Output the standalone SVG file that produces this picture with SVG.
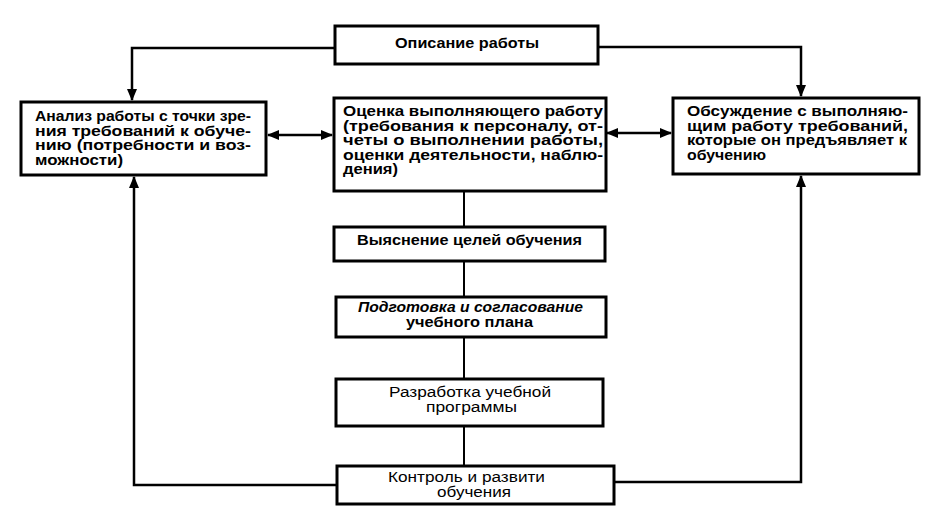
<svg xmlns="http://www.w3.org/2000/svg" width="928" height="522" viewBox="0 0 928 522">
<style>
.box{fill:#fff;stroke:#000;stroke-width:3}
.t{font-family:"Liberation Sans",Arial,sans-serif;font-size:14px;font-weight:bold;fill:#000}
.r{font-family:"Liberation Sans",Arial,sans-serif;font-size:14px;fill:#000}
.i{font-style:italic}
.c{fill:none;stroke:#000;stroke-width:2.5}
.cm{fill:none;stroke:#000;stroke-width:2}
</style>
<defs>
<marker id="ah" viewBox="0 0 12 10" refX="11" refY="5" markerWidth="12" markerHeight="10" markerUnits="userSpaceOnUse" orient="auto-start-reverse">
<path d="M0,0 L12,5 L0,10 z" fill="#000"/>
</marker>
</defs>
<rect width="928" height="522" fill="#fff"/>
<g id="connectors">
<path class="c" d="M335,48 H132 V100" marker-end="url(#ah)"/>
<path class="c" d="M598,47 H801 V96" marker-end="url(#ah)"/>
<path class="c" d="M268,135 H332" marker-start="url(#ah)" marker-end="url(#ah)"/>
<path class="c" d="M607,133 H671" marker-start="url(#ah)" marker-end="url(#ah)"/>
<path class="cm" d="M464,191 V466"/>
<path class="c" d="M337,485 H134 V177" marker-end="url(#ah)"/>
<path class="c" d="M614,482 H801 V176" marker-end="url(#ah)"/>
</g>
<g id="n-opisanie">
<rect class="box" x="335" y="26" width="263" height="38"/>
<text class="t" x="395" y="48" textLength="144" lengthAdjust="spacingAndGlyphs">Описание работы</text>
</g>
<g id="n-analiz">
<rect class="box" x="21" y="102" width="245" height="73"/>
<text class="t" x="35" y="121" textLength="216" lengthAdjust="spacingAndGlyphs">Анализ работы с точки зре-</text>
<text class="t" x="35" y="135.5" textLength="216" lengthAdjust="spacingAndGlyphs">ния требований к обуче-</text>
<text class="t" x="35" y="150" textLength="216" lengthAdjust="spacingAndGlyphs">нию (потребности и воз-</text>
<text class="t" x="35" y="164.5" textLength="88" lengthAdjust="spacingAndGlyphs">можности)</text>
</g>
<g id="n-ocenka">
<rect class="box" x="334" y="98" width="272" height="93"/>
<text class="t" x="343" y="116" textLength="260" lengthAdjust="spacingAndGlyphs">Оценка выполняющего работу</text>
<text class="t" x="343" y="130.5" textLength="260" lengthAdjust="spacingAndGlyphs">(требования к персоналу, от-</text>
<text class="t" x="343" y="145" textLength="260" lengthAdjust="spacingAndGlyphs">четы о выполнении работы,</text>
<text class="t" x="343" y="159.5" textLength="260" lengthAdjust="spacingAndGlyphs">оценки деятельности, наблю-</text>
<text class="t" x="343" y="174" textLength="55" lengthAdjust="spacingAndGlyphs">дения)</text>
</g>
<g id="n-obsuzhdenie">
<rect class="box" x="673" y="98" width="246" height="76"/>
<text class="t" x="687" y="116" textLength="221" lengthAdjust="spacingAndGlyphs">Обсуждение с выполняю-</text>
<text class="t" x="687" y="130.5" textLength="221" lengthAdjust="spacingAndGlyphs">щим работу требований,</text>
<text class="t" x="687" y="145" textLength="220" lengthAdjust="spacingAndGlyphs">которые он предъявляет к</text>
<text class="t" x="687" y="159.5" textLength="79" lengthAdjust="spacingAndGlyphs">обучению</text>
</g>
<g id="n-vyyasnenie">
<rect class="box" x="334" y="227" width="271" height="34"/>
<text class="t" x="357" y="245" textLength="225" lengthAdjust="spacingAndGlyphs">Выяснение целей обучения</text>
</g>
<g id="n-podgotovka">
<rect class="box" x="336" y="297" width="270" height="40"/>
<text class="t i" x="358" y="312" textLength="225" lengthAdjust="spacingAndGlyphs">Подготовка и согласование</text>
<text class="t" x="406" y="327" textLength="127" lengthAdjust="spacingAndGlyphs">учебного плана</text>
</g>
<g id="n-razrabotka">
<rect class="box" x="336" y="379" width="267" height="47"/>
<text class="r" x="389" y="397" textLength="162" lengthAdjust="spacingAndGlyphs">Разработка учебной</text>
<text class="r" x="426" y="412" textLength="91" lengthAdjust="spacingAndGlyphs">программы</text>
</g>
<g id="n-kontrol">
<rect class="box" x="337" y="466" width="277" height="38"/>
<text class="r" x="388" y="482" textLength="157" lengthAdjust="spacingAndGlyphs">Контроль и развити</text>
<text class="r" x="437" y="497" textLength="74" lengthAdjust="spacingAndGlyphs">обучения</text>
</g>
</svg>
